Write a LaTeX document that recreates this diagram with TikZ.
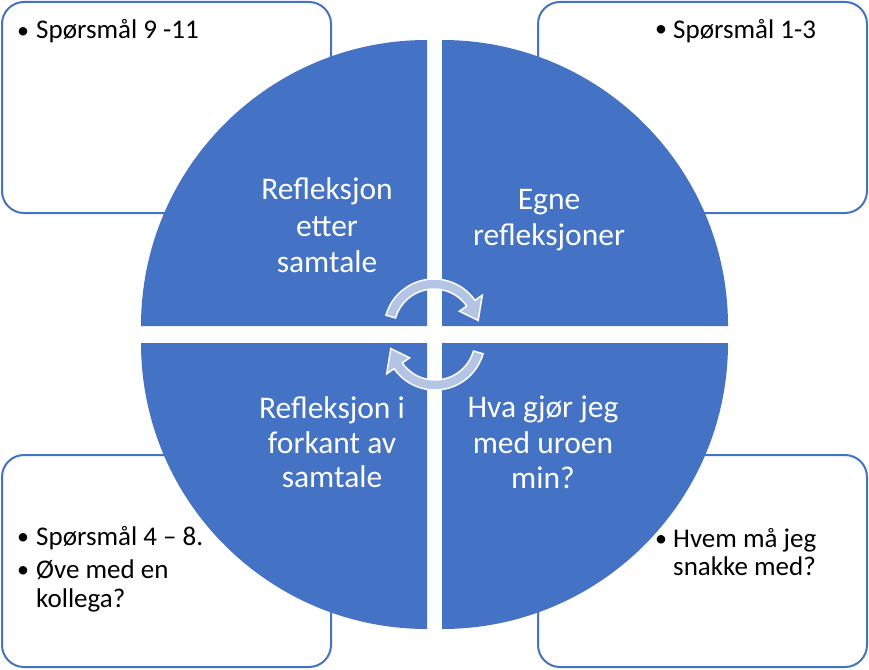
\documentclass[tikz,border=0pt]{standalone}
\usepackage{fontspec}
\setmainfont{Carlito}
\usetikzlibrary{calc}
\definecolor{quadblue}{RGB}{68,114,196}
\definecolor{arrowfill}{RGB}{180,196,228}
\begin{document}
\begin{tikzpicture}[x=1pt,y=-1pt,
  boxframe/.style={draw=quadblue,line width=2pt,fill=white,rounded corners=22pt},
  quad/.style={fill=quadblue},
  cyc/.style={fill=arrowfill,draw=white,line width=1.5pt,line join=miter},
  qtext/.style={text=white,anchor=base,inner sep=0pt,font=\fontsize{31.5}{36}\selectfont},
  btext/.style={text=black,anchor=base west,inner sep=0pt,font=\fontsize{27}{29}\selectfont},
  bul/.style={text=black,anchor=base,inner sep=0pt,font=\fontsize{24}{29}\selectfont}]
\useasboundingbox (0,0) rectangle (869,669);
% corner boxes
\draw[boxframe] (2,2) rectangle (331,213);
\draw[boxframe] (538,2) rectangle (867,213);
\draw[boxframe] (2,455) rectangle (331,667);
\draw[boxframe] (538,455) rectangle (867,667);
% quadrants
\fill[quad] (427,326) -- (141,326) arc[start angle=180,end angle=270,radius=286] -- cycle;
\fill[quad] (442,326) -- (442,40) arc[start angle=270,end angle=360,radius=286] -- cycle;
\fill[quad] (442,343) -- (728,343) arc[start angle=0,end angle=90,radius=286] -- cycle;
\fill[quad] (427,343) -- (427,629) arc[start angle=90,end angle=180,radius=286] -- cycle;
% circular arrows
\coordinate (c1) at (434,329);
\coordinate (c2) at (435,340);
\draw[cyc] ($(c1)+(196:50)$) arc[start angle=196,end angle=325,radius=50]
  -- ($(c1)+(325:59)$) -- ($(c1)+(349:45)$) -- ($(c1)+(325:31)$)
  -- ($(c1)+(325:40)$) arc[start angle=325,end angle=196,radius=40] -- cycle;
\draw[cyc] ($(c2)+(16:50)$) arc[start angle=16,end angle=145,radius=50]
  -- ($(c2)+(145:59)$) -- ($(c2)+(169:45)$) -- ($(c2)+(145:31)$)
  -- ($(c2)+(145:40)$) arc[start angle=145,end angle=16,radius=40] -- cycle;
% quadrant texts
\node[qtext] (tl1) at (327,199) {Refleksjon};
\node[qtext] (tl2) at (327,236) {etter};
\node[qtext] (tl3) at (327,272) {samtale};
\node[qtext] (tr1) at (549,209) {Egne};
\node[qtext] (tr2) at (549,245) {refleksjoner};
\node[qtext] (bl1) at (332,418) {Refleksjon i};
\node[qtext] (bl2) at (332,453) {forkant av};
\node[qtext] (bl3) at (332,487) {samtale};
\node[qtext] (br1) at (543,417) {Hva gjør jeg};
\node[qtext] (br2) at (543,453) {med uroen};
\node[qtext] (br3) at (543,488) {min?};
% box texts
\node[bul] (b1) at (23,38) {•};
\node[btext] (t1) at (36,39) {Spørsmål 9 -11};
\node[bul] (b2) at (661,37) {•};
\node[btext] (t2) at (673,38) {Spørsmål 1-3};
\node[bul] (b3) at (23,544) {•};
\node[btext] (t3) at (36,545) {Spørsmål 4 – 8.};
\node[bul] (b4) at (23,577) {•};
\node[btext] (t4) at (36,578) {Øve med en};
\node[btext] (t5) at (36,607) {kollega?};
\node[bul] (b5) at (661,546) {•};
\node[btext] (t6) at (673,547) {Hvem må jeg};
\node[btext] (t7) at (673,575) {snakke med?};
\end{tikzpicture}
\end{document}
